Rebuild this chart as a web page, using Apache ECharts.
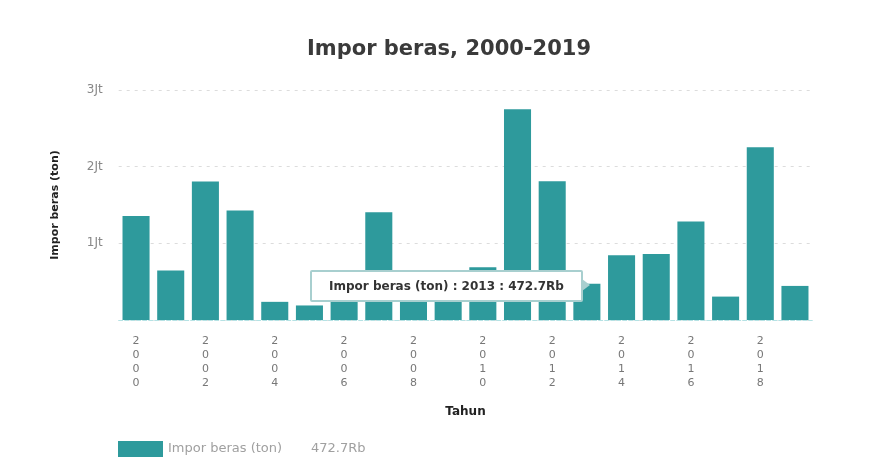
<!DOCTYPE html>
<html>
<head>
<meta charset="utf-8">
<script src="https://cdn.jsdelivr.net/npm/echarts@6/dist/echarts.min.js"></script>
<style>
  html, body { margin: 0; padding: 0; background: #fff; }
  #chart { width: 871px; height: 468px; }
</style>
</head>
<body>
<div id="chart"></div>
<script>
// tahun & impor beras (ton)
var years = ['2000','2001','2002','2003','2004','2005','2006','2007','2008','2009',
             '2010','2011','2012','2013','2014','2015','2016','2017','2018','2019'];
var imporBeras = [1355666, 644733, 1805380, 1428506, 236867, 189617, 438109, 1406847, 289689, 250473,
                  687582, 2750476, 1810372, 472665, 844163, 861601, 1283178, 305275, 2253824, 444509];
var yTicks = ['', '1Jt', '2Jt', '3Jt'];
var hoverIndex = 13;

function fmtRb(v){
    return (v / 1000).toFixed(1) + 'Rb';
}

var dom = document.getElementById('chart');
var myChart = echarts.init(dom);
var wide = 'DejaVu Sans';

var option = {
    animation: false,
    textStyle: {fontFamily: wide},
    title: {
        text: 'Impor beras, 2000-2019',
        left: 302,
        top: 34,
        textStyle: {fontSize: 21, fontWeight: 'bold', color: '#3a3a3a', fontFamily: wide}
    },
    legend: {
        left: 118,
        top: 441,
        padding: 0,
        itemWidth: 45,
        itemHeight: 16,
        itemGap: 8,
        icon: 'rect',
        formatter: function(name){
            return name + '       ' + fmtRb(imporBeras[hoverIndex]);
        },
        textStyle: {fontSize: 13, color: '#a0a0a0', fontFamily: wide}
    },
    tooltip: {
        trigger: 'item',
        alwaysShowContent: true,
        backgroundColor: '#fff',
        borderColor: '#a8cfcf',
        borderWidth: 2,
        padding: [5, 17],
        extraCssText: 'box-shadow:none;border-radius:2px;',
        position: function(){ return [310, 270]; },
        textStyle: {fontSize: 12, color: '#333', fontWeight: 'bold', fontFamily: wide},
        formatter: function(p){
            return p.seriesName + ' : ' + p.name + ' : ' + fmtRb(p.value) +
              '<span style="position:absolute;right:-9px;top:7px;width:0;height:0;' +
              'border-top:6px solid transparent;border-bottom:6px solid transparent;' +
              'border-left:8px solid #a8cfcf;"></span>';
        }
    },
    grid: {left: 118.7, right: 58.7, top: 90, bottom: 148},
    xAxis: {
        type: 'category',
        data: years,
        name: 'Tahun',
        nameLocation: 'middle',
        nameGap: 86,
        nameTextStyle: {fontSize: 12, fontWeight: 'bold', color: '#222', fontFamily: wide},
        axisTick: {show: false},
        axisLine: {lineStyle: {color: '#b5e2e4', type: 'dashed', width: 1}},
        axisLabel: {
            interval: 1,
            margin: 14,
            fontSize: 11,
            lineHeight: 14,
            color: '#777',
            formatter: function(v){ return v.split('').join('\n'); }
        }
    },
    yAxis: {
        type: 'value',
        min: 0,
        max: 3000000,
        interval: 1000000,
        name: 'Impor beras (ton)',
        nameLocation: 'middle',
        nameGap: 58,
        nameTextStyle: {fontSize: 11, fontWeight: 'bold', color: '#222', fontFamily: wide},
        axisLine: {show: false},
        axisTick: {show: false},
        axisLabel: {
            fontSize: 12,
            color: '#888',
            margin: 16,
            formatter: function(v){ return yTicks[Math.round(v / 1000000)]; }
        },
        splitLine: {lineStyle: {color: '#dcdcdc', type: [3, 5]}}
    },
    series: [{
        name: 'Impor beras (ton)',
        type: 'bar',
        data: imporBeras,
        barCategoryGap: '22%',
        itemStyle: {color: '#2e9a9c'}
    }]
};

myChart.setOption(option);
myChart.dispatchAction({type: 'showTip', seriesIndex: 0, dataIndex: hoverIndex});
</script>
</body>
</html>
